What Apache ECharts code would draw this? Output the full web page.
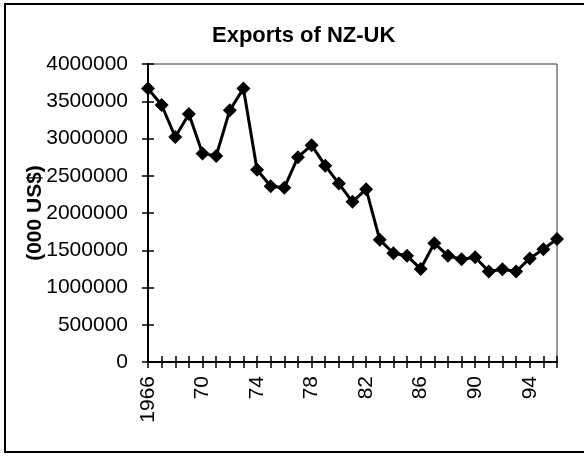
<!DOCTYPE html>
<html>
<head>
<meta charset="utf-8">
<script src="https://cdn.jsdelivr.net/npm/echarts@6/dist/echarts.min.js"></script>
<style>
html,body{margin:0;padding:0;background:#fff;}
#chart{width:584px;height:457px;}
</style>
</head>
<body>
<div id="chart"></div>
<script>
var years = ['1966','1967','1968','1969','1970','1971','1972','1973','1974','1975','1976','1977','1978','1979','1980','1981','1982','1983','1984','1985','1986','1987','1988','1989','1990','1991','1992','1993','1994','1995','1996'];
var exportsNZUK = [3670000, 3450000, 3020000, 3330000, 2800000, 2765000, 3380000, 3670000, 2580000, 2360000, 2340000, 2750000, 2910000, 2635000, 2395000, 2150000, 2320000, 1640000, 1460000, 1425000, 1250000, 1595000, 1425000, 1380000, 1405000, 1215000, 1245000, 1215000, 1390000, 1515000, 1650000];
var xTickLabels = ['1966','70','74','78','82','86','90','94'];
var yTicks = [0, 500000, 1000000, 1500000, 2000000, 2500000, 3000000, 3500000, 4000000];
var titleText = 'Exports of NZ-UK';
var yAxisName = '(000 US$)';

var FONT = 'Liberation Sans, Arial, sans-serif';
var chart = echarts.init(document.getElementById('chart'), null, {renderer: 'canvas'});

function xLabel(v, i) {
  return (i % 4 === 0 && xTickLabels[i / 4] !== undefined) ? xTickLabels[i / 4] : '';
}
function yLabel(v) { return String(v); }

var yMin = yTicks[0], yMax = yTicks[yTicks.length - 1], yStep = yTicks[1] - yTicks[0];

chart.setOption({
  animation: false,
  backgroundColor: '#fff',
  title: {
    text: titleText,
    left: 207,
    top: 20,
    textStyle: {fontFamily: FONT, fontSize: 22, fontWeight: 'bold', color: '#000'}
  },
  graphic: [{
    type: 'rect',
    shape: {x: 5, y: 4, width: 600, height: 448},
    style: {fill: null, stroke: '#000', lineWidth: 2},
    silent: true, z: -1
  }],
  grid: {
    left: 148, top: 64, right: 27, bottom: 95,
    show: true, borderColor: '#333', borderWidth: 1, backgroundColor: 'transparent'
  },
  xAxis: [{
    type: 'category',
    data: years,
    boundaryGap: false,
    axisLine: {lineStyle: {color: '#000', width: 2}},
    axisTick: {show: true, interval: 0, length: 6, inside: false, lineStyle: {color: '#000', width: 1.5}},
    axisLabel: {interval: 0, rotate: 90, margin: 14, formatter: xLabel,
      fontFamily: FONT, fontSize: 21, color: '#000'},
    splitLine: {show: false}
  }, {
    type: 'category',
    data: years,
    boundaryGap: false,
    position: 'bottom',
    offset: 0,
    axisLine: {show: true, lineStyle: {color: '#000', width: 2}},
    axisTick: {show: true, interval: 0, length: 6, inside: true, lineStyle: {color: '#000', width: 1.5}},
    axisLabel: {show: false},
    splitLine: {show: false}
  }],
  yAxis: [{
    type: 'value',
    min: yMin, max: yMax, interval: yStep,
    name: yAxisName,
    nameLocation: 'middle',
    nameGap: 102,
    nameMoveOverlap: false,
    nameTextStyle: {fontFamily: FONT, fontSize: 21, fontWeight: 'bold', color: '#000'},
    axisLine: {show: true, lineStyle: {color: '#000', width: 2}},
    axisTick: {show: true, length: 6, inside: false, lineStyle: {color: '#000', width: 1.5}},
    axisLabel: {margin: 20, formatter: yLabel, fontFamily: FONT, fontSize: 21, color: '#000'},
    splitLine: {show: false}
  }, {
    type: 'value',
    min: yMin, max: yMax, interval: yStep,
    position: 'left',
    offset: 0,
    axisLine: {show: true, lineStyle: {color: '#000', width: 2}},
    axisTick: {show: true, length: 6, inside: true, lineStyle: {color: '#000', width: 1.5}},
    axisLabel: {show: false},
    splitLine: {show: false}
  }],
  series: [{
    type: 'line',
    data: exportsNZUK,
    symbol: 'diamond',
    symbolSize: 14,
    showAllSymbol: true,
    lineStyle: {color: '#000', width: 3},
    itemStyle: {color: '#000'},
    z: 5
  }]
});
</script>
</body>
</html>
